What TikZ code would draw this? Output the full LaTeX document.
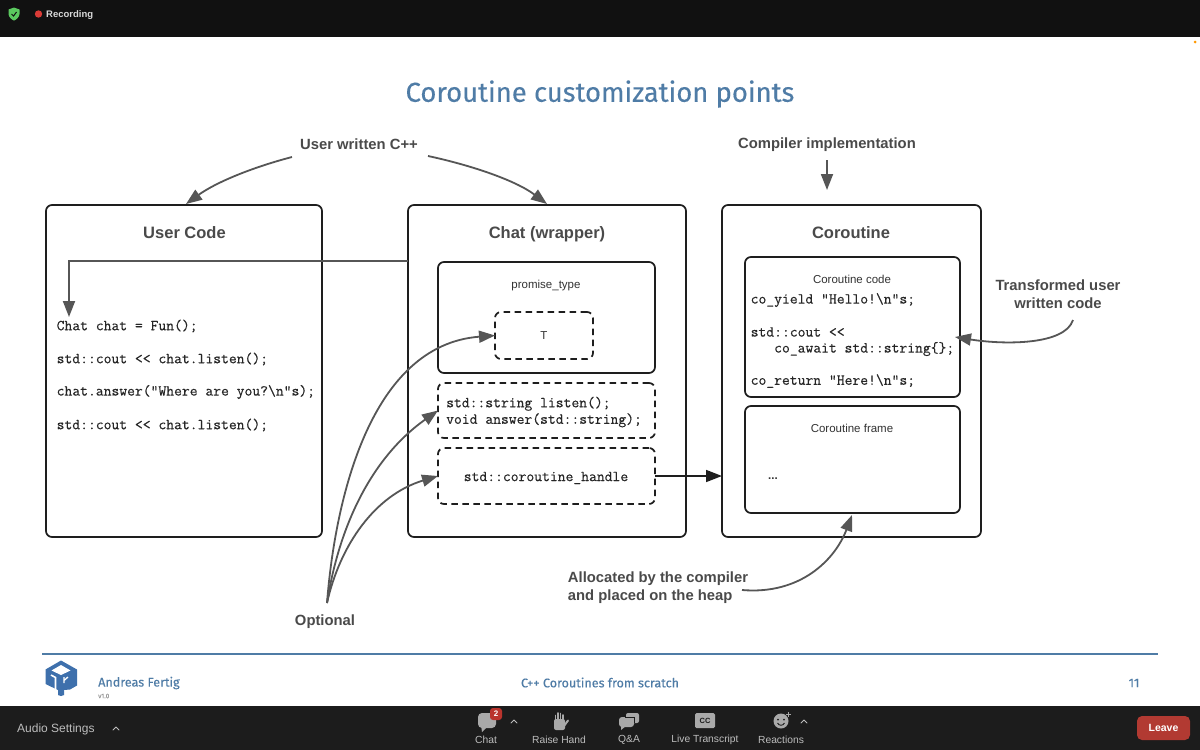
\documentclass[tikz,border=0pt]{standalone}
\usepackage{fontspec}
\setmainfont{Liberation Sans}
\newfontfamily\slidefont[FakeBold=0.2]{Fira Sans}
\newfontfamily\footfont[FakeBold=0.25]{Fira Sans}
\newfontfamily\codefont[FakeBold=0.35]{Latin Modern Mono}
\usetikzlibrary{arrows.meta,positioning}
\definecolor{slideblue}{HTML}{4F7CA6}
\definecolor{logoblue}{HTML}{3E70AC}
\definecolor{labelgray}{HTML}{4A4A4A}
\definecolor{arrowgray}{HTML}{565656}
\definecolor{boxline}{HTML}{1E1E1E}
\definecolor{topbar}{HTML}{111111}
\definecolor{botbar}{HTML}{1C1C1C}
\definecolor{zoomtext}{HTML}{BDBDBD}
\definecolor{zoomicon}{HTML}{A9A9A9}
\definecolor{leavered}{HTML}{B23A32}
\definecolor{recred}{HTML}{D93B36}
\definecolor{shield}{HTML}{5BC95F}
\tikzset{
  x=1pt,y=-1pt,
  bigbox/.style={draw=boxline,line width=1.7pt,rounded corners=6pt,anchor=north west,inner sep=0pt,outer sep=0pt},
  inbox/.style={bigbox},
  dashbox/.style={inbox,dash pattern=on 6.5pt off 4.5pt},
  boxtitle/.style={font=\fontsize{16.5}{18}\selectfont\bfseries,text=labelgray,inner sep=0pt},
  sidelabel/.style={font=\fontsize{14.8}{18}\selectfont\bfseries,text=labelgray,inner sep=0pt,align=center},
  smalltext/.style={font=\fontsize{11.5}{13}\selectfont,text=black!80,inner sep=0pt},
  code/.style={font=\fontsize{15.2}{16.5}\codefont,text=black!85,inner sep=0pt,align=left,anchor=west},
  curved/.style={draw=arrowgray,line width=1.8pt,-{Triangle[length=16pt,width=12pt]}},
  straight/.style={draw=boxline,line width=1.6pt,-{Triangle[length=16pt,width=12pt]}},
  footer/.style={font=\fontsize{12.6}{15}\footfont,text=slideblue,inner sep=0pt},
  zoomlabel/.style={font=\fontsize{10.3}{12}\selectfont,text=zoomtext,inner sep=0pt},
  caret/.style={draw=zoomtext,line width=1pt,line cap=round,line join=round},
}
\begin{document}
\begin{tikzpicture}
\useasboundingbox (0,0) rectangle (1200,750);
\fill[white] (0,0) rectangle (1200,750);
% Zoom bars
\fill[topbar] (0,0) rectangle (1200,37);
\fill[botbar] (0,706) rectangle (1200,750);
\fill[shield] (8.5,9.5) -- (14,7.5) -- (19.5,9.5) -- (19.5,14) .. controls (19.5,17) and (16,20) .. (14,20.5) .. controls (12,20) and (8.5,17) .. (8.5,14) -- cycle;
\draw[topbar,line width=1pt] (11.5,14) -- (13.5,16) -- (16.5,12);
\fill[recred] (38.5,14) circle (3.7);
\node[font=\fontsize{9.5}{11}\selectfont\bfseries,text=white!85!black,inner sep=0pt,anchor=west] (rec) at (46,15) {Recording};
\fill[orange!80!yellow] (1195,42) circle (1.5);
% Title
\node[font=\fontsize{27.4}{32}\slidefont,text=slideblue,inner sep=0pt] (title) at (600,94) {Coroutine customization points};
% Main boxes
\node[bigbox,minimum width=276pt,minimum height=332pt] (user) at (46,205) {};
\node[bigbox,minimum width=278pt,minimum height=332pt] (chat) at (408,205) {};
\node[bigbox,minimum width=259pt,minimum height=332pt] (coro) at (722,205) {};
\node[boxtitle] (usert) at (184.5,233) {User Code};
\node[boxtitle] (chatt) at (547,234) {Chat (wrapper)};
\node[boxtitle] (corot) at (851,233) {Coroutine};
% Inner boxes
\node[inbox,minimum width=217pt,minimum height=111pt] (promise) at (438,262) {};
\node[dashbox,minimum width=98pt,minimum height=47pt] (tbox) at (495,312) {};
\node[dashbox,minimum width=217pt,minimum height=55pt] (api) at (438,383) {};
\node[dashbox,minimum width=217pt,minimum height=56pt] (handle) at (438,448) {};
\node[inbox,minimum width=215pt,minimum height=140pt] (ccode) at (745,257) {};
\node[inbox,minimum width=215pt,minimum height=107pt] (cframe) at (745,406) {};
\node[smalltext] (pt) at (546,285.5) {promise\_type};
\node[smalltext] at (544,335.5) (tt) {T};
\node[smalltext] (cct) at (852,279) {Coroutine code};
\node[smalltext] (cft) at (852,428) {Coroutine frame};
\node[smalltext,font=\fontsize{11.5}{13}\selectfont\bfseries] (dots) at (773,478.5) {...};
% Code
\node[code] (c1) at (56.5,326) {Chat chat = Fun();};
\node[code] (c2) at (56.5,359) {std::cout << chat.listen();};
\node[code] (c3) at (56.5,392) {chat.answer("Where are you?\textbackslash n"s);};
\node[code] (c4) at (56.5,425) {std::cout << chat.listen();};
\node[code] (apit) at (446,412) {std::string listen();\\void answer(std::string);};
\node[code,anchor=center] (handlet) at (546,478) {std::coroutine\_handle};
\node[code] (k1) at (750.5,300) {co\_yield "Hello!\textbackslash n"s;};
\node[code] (k2) at (750.5,332) {std::cout <<};
\node[code] (k3) at (774,349) {co\_await std::string\{\};};
\node[code] (k4) at (750.5,381) {co\_return "Here!\textbackslash n"s;};
% Labels
\node[sidelabel] (written) at (359,144.5) {User written C++};
\node[sidelabel] (compiler) at (827,144.5) {Compiler implementation};
\node[sidelabel] (transformed) at (1058,294.5) {Transformed user\\written code};
\node[sidelabel] (optional) at (325,622) {Optional};
\node[sidelabel,align=left] (alloc) at (658,588) {Allocated by the compiler\\and placed on the heap};
% Connectors
\coordinate (wl) at (292,157);
\coordinate (wr) at (428,156);
\coordinate (userin) at (186,204);
\coordinate (chatin) at (547,204);
\draw[curved] (wl) .. controls (250,168) and (215,183) .. (userin);
\draw[curved] (wr) .. controls (470,165) and (515,180) .. (chatin);
\coordinate (compa) at (827,160);
\coordinate (compb) at (827,190);
\draw[curved] (compa) -- (compb);
\coordinate (opt) at (327,603);
\draw[curved] (opt) .. controls (335,500) and (370,345) .. (tbox.west);
\draw[curved] (opt) .. controls (340,520) and (375,455) .. (api.west);
\draw[curved] (opt) .. controls (340,545) and (375,495) .. (handle.west);
\coordinate (tr) at (1073,320);
\coordinate (ccin) at (955,337);
\draw[curved] (tr) .. controls (1065,345) and (1005,345) .. (ccin);
\coordinate (al) at (742,590);
\coordinate (cfin) at (852,515);
\draw[curved] (al) .. controls (800,595) and (835,560) .. (cfin);
\draw[straight] (handle.east) -- (coro.west |- handle.east);
\coordinate (ubend) at (69,261);
\coordinate (ucode) at (69,317);
\draw[curved] (chat.west |- ubend) -- (ubend) -- (ucode);
% Footer
\draw[slideblue,line width=1.2pt] (42,654) -- (1158,654);
\node[footer,anchor=west] (author) at (98,683) {Andreas Fertig};
\node[font=\fontsize{6.5}{7}\footfont,text=black!40,inner sep=0pt,anchor=west] (ver) at (98,696) {v1.0};
\node[footer,anchor=center] (talk) at (600,682.5) {C++ Coroutines from scratch};
\node[footer,anchor=center] (page) at (1134,683) {11};
% Logo
\fill[logoblue] (61,660.5) -- (77,669.5) -- (77,685.5) -- (70,689.5) -- (64,690) -- (64,695) -- (61,696) -- (58,695) -- (58,690) -- (45.5,684) -- (45.5,669.5) -- cycle;
\fill[white] (61,665) -- (51.5,670.5) -- (61,675) -- (70.5,670.5) -- cycle;
\draw[white,line width=1.6pt] (51,675) -- (55.5,677.5) -- (55.5,690);
\draw[white,line width=1.3pt] (64,677) -- (64,683) (64,680.5) -- (68,677);
% Bottom controls
\node[zoomlabel,font=\fontsize{12}{14}\selectfont,anchor=west] (audio) at (17,729.5) {Audio Settings};
\draw[caret] (113,730) -- (116,727) -- (119,730);
\fill[zoomicon,rounded corners=4pt] (478,713) rectangle (496,728);
\fill[zoomicon] (481,725) -- (488,726) -- (482,732) -- cycle;
\fill[leavered!90!red,rounded corners=3pt] (490,708) rectangle (502,720);
\node[font=\fontsize{8}{9}\selectfont\bfseries,text=white,inner sep=0pt] (badge) at (496,714) {2};
\draw[caret] (511,723) -- (514,720) -- (517,723);
\node[zoomlabel] (chatb) at (486,739.5) {Chat};
\fill[zoomicon,rounded corners=2pt] (554,719) rectangle (565,730);
\draw[zoomicon,line width=1.6pt,line cap=round] (555.5,720) -- (555.5,715.5) (558,720) -- (558,713) (560.5,720) -- (560.5,713.5) (563,720) -- (563,715);
\draw[zoomicon,line width=2pt,line cap=round] (564,726) -- (568,720.5);
\node[zoomlabel] (hand) at (559,739.5) {Raise Hand};
\fill[zoomicon,rounded corners=3pt] (619,717) rectangle (634,727);
\fill[zoomicon] (621,725) -- (626,726) -- (621,730) -- cycle;
\fill[zoomicon,rounded corners=2pt] (626,713) rectangle (639,723);
\draw[botbar,line width=0.8pt] (625,717) -- (634,717) -- (634,723);
\node[zoomlabel] (qa) at (629,739.5) {Q\&A};
\fill[zoomicon,rounded corners=1.5pt] (695,713) rectangle (715,728);
\node[font=\fontsize{7.5}{9}\selectfont\bfseries,text=botbar,inner sep=0pt] (cc) at (705,720.5) {CC};
\node[zoomlabel] (live) at (705,739.5) {Live Transcript};
\fill[zoomicon] (781,721) circle (7.5);
\fill[botbar] (778,719.5) circle (1) (784,719.5) circle (1);
\draw[botbar,line width=0.9pt] (777.5,723) .. controls (779,726) and (783,726) .. (784.5,723);
\draw[zoomicon,line width=0.8pt] (788,712) -- (788,717) (785.5,714.5) -- (790.5,714.5);
\draw[caret] (801,723) -- (804,720) -- (807,723);
\node[zoomlabel] (react) at (781,739.5) {Reactions};
\fill[leavered,rounded corners=5pt] (1137,716) rectangle (1190,740);
\node[font=\fontsize{10.5}{12}\selectfont\bfseries,text=white,inner sep=0pt] (leave) at (1163.5,728) {Leave};
\end{tikzpicture}
\end{document}
